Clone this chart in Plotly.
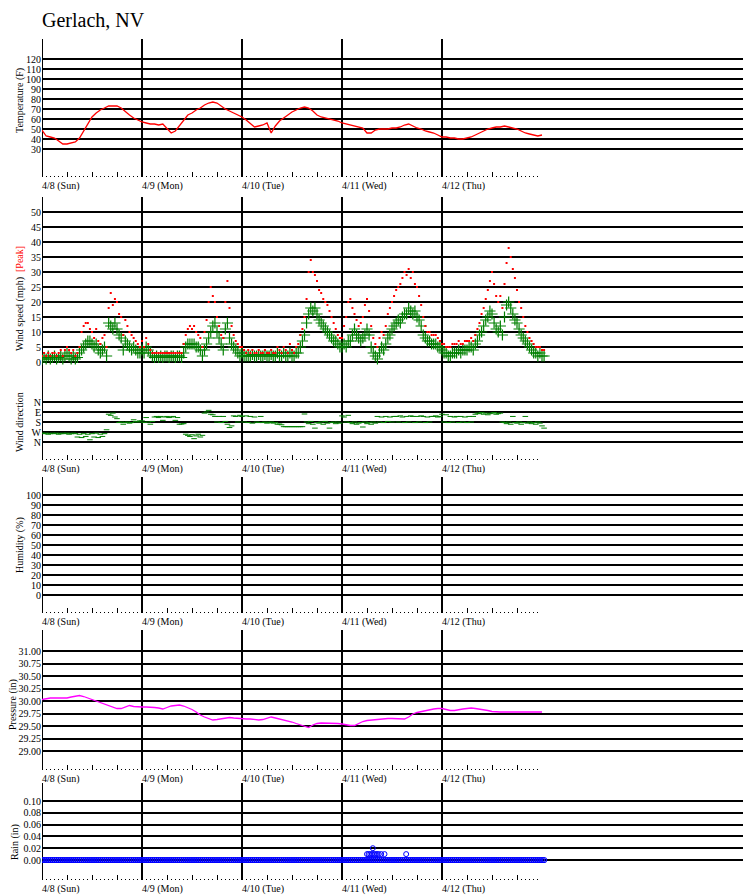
import plotly.graph_objects as go
from datetime import datetime, timedelta

# ---------------- data ----------------
title_text = "Gerlach, NV"
start = datetime(2012, 4, 8)
day_labels = ["4/8 (Sun)", "4/9 (Mon)", "4/10 (Tue)", "4/11 (Wed)", "4/12 (Thu)"]

# hourly, from 4/8 00:00
temp_f = [
    49, 43, 42, 41, 38, 35, 35, 36, 37, 41, 48, 56, 62, 66, 69, 71, 73, 73, 73, 71, 67, 64, 61, 59,
    57, 56, 55, 55, 54, 55, 50, 46, 48, 53, 59, 64, 66, 69, 71, 74, 76, 77, 76, 73, 70, 68, 66, 64,
    62, 59, 55, 52, 53, 54, 56, 46, 53, 58, 61, 64, 67, 69, 71, 72, 71, 68, 64, 62, 61, 60, 59, 58,
    56, 55, 54, 53, 52, 51, 46, 46, 49, 50, 50, 50, 51, 51, 52, 54, 55, 53, 51, 50, 48, 47, 46, 44,
    42, 42, 41, 41, 40, 40, 41, 42, 44, 46, 48, 50, 51, 52, 52, 53, 52, 51, 50, 48, 46, 45, 44, 43, 44,
]

pressure_in = [
    30.03, 30.05, 30.06, 30.06, 30.06, 30.06, 30.06, 30.08, 30.10, 30.11, 30.09, 30.06, 30.02, 30.00, 29.96, 29.93, 29.91, 29.88, 29.85, 29.85, 29.88, 29.91, 29.89, 29.88,
    29.88, 29.88, 29.88, 29.87, 29.86, 29.84, 29.87, 29.90, 29.91, 29.92, 29.90, 29.87, 29.83, 29.78, 29.72, 29.68, 29.65, 29.62, 29.63, 29.64, 29.65, 29.67, 29.66, 29.65,
    29.65, 29.64, 29.64, 29.63, 29.62, 29.63, 29.66, 29.68, 29.66, 29.64, 29.63, 29.60, 29.58, 29.55, 29.52, 29.49, 29.47, 29.52, 29.55, 29.56, 29.56, 29.55, 29.55, 29.55,
    29.54, 29.52, 29.51, 29.51, 29.55, 29.59, 29.61, 29.62, 29.63, 29.64, 29.64, 29.65, 29.65, 29.65, 29.64, 29.64, 29.68, 29.74, 29.77, 29.79, 29.81, 29.83, 29.84, 29.85,
    29.85, 29.83, 29.81, 29.81, 29.83, 29.84, 29.85, 29.86, 29.85, 29.84, 29.82, 29.81, 29.79, 29.78, 29.78, 29.78, 29.78, 29.78, 29.78, 29.78, 29.78, 29.78, 29.78, 29.78, 29.78,
]

# half-hourly, from 4/8 00:00
wind_avg_mph = [
    1, 1.5, 1, 2, 1, 1.5, 2, 1, 1.5, 2, 1, 2, 3, 2, 1, 2, 1, 1.5, 3, 4, 5, 6, 7, 7, 6, 5, 6, 4, 3, 4, 5, 2, 13, 12, 11, 13, 11, 9, 8, 4, 7, 6, 5, 4, 5, 4, 3, 3,
    4, 3, 5, 4, 3, 2, 1.5, 2, 1.5, 2, 1.5, 2, 2, 1.5, 2, 2, 1.5, 2, 2, 1.5, 3, 5, 6, 6, 6, 6, 5, 5, 4, 2, 4, 6, 8, 10, 12, 13, 10, 8, 6, 4, 11, 13, 8, 6, 5, 4, 3, 2,
    3, 2, 2, 2, 2, 2.5, 2, 2, 2.5, 2, 2, 2.5, 2, 2, 2.5, 2, 2, 3, 2, 2, 3, 2, 2, 3, 2, 2, 3, 3, 5, 7, 9, 13, 16, 18, 17, 18, 16, 14, 13, 12, 11, 10, 9, 8, 7, 7, 6, 5,
    5, 6, 5, 7, 7, 9, 11, 9, 8, 7, 8, 9, 11, 9, 5, 3, 2, 1, 3, 5, 4, 6, 8, 9, 11, 12, 13, 14, 13, 15, 16, 16, 18, 17, 16, 17, 15, 14, 12, 9, 8, 7, 7, 6, 6, 6, 5, 5,
    4, 3, 3, 2, 2, 3, 3, 3, 4, 3, 4, 4, 4, 5, 5, 4, 6, 7, 9, 10, 12, 14, 15, 17, 16, 13, 11, 10, 12, 9, 15, 19, 20, 18, 16, 14, 13, 11, 9, 8, 7, 6, 5, 4, 3, 3, 2, 3, 2, 2,
]

wind_peak_mph = [
    2, 3, 2, 3, 2, 3, 3, 2, 3, 4, 2, 4, 5, 4, 3, 4, 2, 3, 5, 10, 12, 13, 13, 11, 10, 8, 11, 7, 6, 8, 9, 5, 18, 23, 19, 21, 20, 16, 15, 9, 14, 12, 10, 9, 8, 7, 6, 5,
    7, 5, 8, 6, 4, 3, 3, 3, 3, 3, 3, 3, 3, 3, 3, 3, 3, 3, 3, 3, 6, 9, 11, 12, 11, 12, 10, 9, 8, 5, 10, 14, 20, 25, 22, 20, 15, 12, 9, 8, 20, 27, 18, 12, 9, 7, 6, 5,
    5, 4, 3, 4, 3, 4, 3, 3, 4, 3, 3, 4, 3, 3, 4, 3, 3, 5, 4, 3, 5, 4, 3, 6, 4, 3, 5, 6, 9, 11, 15, 21, 30, 34, 30, 29, 27, 24, 23, 21, 20, 19, 17, 15, 13, 11, 9, 8,
    8, 12, 15, 20, 21, 18, 16, 14, 12, 13, 15, 19, 21, 17, 12, 8, 6, 5, 8, 10, 9, 12, 16, 18, 20, 22, 24, 25, 26, 28, 30, 29, 31, 28, 30, 26, 25, 22, 19, 15, 12, 10, 10, 9, 9, 9, 8, 7,
    6, 6, 5, 5, 5, 6, 6, 6, 7, 6, 6, 7, 7, 7, 8, 7, 9, 11, 13, 16, 18, 21, 24, 27, 30, 26, 22, 20, 22, 18, 26, 33, 38, 35, 31, 28, 24, 20, 18, 15, 12, 10, 8, 7, 6, 5, 5, 5, 4, 4,
]

# degrees (0 = N, 90 = E, 180 = S, 270 = W)
wind_dir_deg = [
    280, 285, 280, 290, 285, 280, 285, 280, 290, 285, 280, 285, 280, 290, 285, 280,
    285, 315, 290, 320, 285, 310, 290, 340, 285, 315, 280, 320, 290, 310, 285, 250,
    110, 120, 100, 135, 150, 185, 180, 200, 185, 180, 190, 185, 160, 175, 180, 170,
    170, 185, 140, 180, 200, 175, 135, 130, 140, 130, 165, 135, 130, 140, 135, 130, 165, 140,
    200, 198, 195, 290, 300, 310, 295, 330, 305, 290, 315, 300, 100, 90, 75, 110, 115,
    130, 180, 130, 185, 130, 175, 200, 230, 215, 125, 130, 180, 120,
    130, 180, 125, 185, 130, 190, 135, 180, 185, 130, 185, 180, 190, 185, 180, 190, 185,
    200, 198, 205, 222, 222, 222, 222, 222, 222, 222, 222, 222, 222, 108,
    180, 195, 175, 200, 235, 185, 190, 180, 200, 175, 190, 235, 185, 180, 195, 180, 190,
    125, 135, 180, 120, 185, 195, 180, 200, 190, 185, 225, 180, 195, 185, 200, 180, 190,
    130, 180, 135, 185, 130, 175, 135, 180, 130,
    130, 180, 125, 135, 185, 130, 180, 125, 130, 185, 130, 180, 125, 130, 185, 135, 180, 130,
    130, 125, 135, 130,
    110, 180, 115, 185, 130, 180, 135, 130, 185, 130, 180, 135, 185, 130, 180, 130, 110,
    100, 105, 95, 110, 100, 115, 105, 100, 95, 110, 105, 100, 180,
    185, 195, 180, 200, 130, 185, 190, 180, 200, 185, 130, 190, 180, 195, 185, 200, 180, 190,
    215, 235,
]

rain_in = [
    0, 0, 0, 0, 0, 0, 0, 0, 0, 0, 0, 0, 0, 0, 0, 0, 0, 0, 0, 0, 0, 0, 0, 0, 0, 0, 0, 0, 0, 0, 0, 0, 0, 0, 0, 0, 0, 0, 0, 0, 0, 0, 0, 0, 0, 0, 0, 0,
    0, 0, 0, 0, 0, 0, 0, 0, 0, 0, 0, 0, 0, 0, 0, 0, 0, 0, 0, 0, 0, 0, 0, 0, 0, 0, 0, 0, 0, 0, 0, 0, 0, 0, 0, 0, 0, 0, 0, 0, 0, 0, 0, 0, 0, 0, 0, 0,
    0, 0, 0, 0, 0, 0, 0, 0, 0, 0, 0, 0, 0, 0, 0, 0, 0, 0, 0, 0, 0, 0, 0, 0, 0, 0, 0, 0, 0, 0, 0, 0, 0, 0, 0, 0, 0, 0, 0, 0, 0, 0, 0, 0, 0, 0, 0, 0,
    0, 0, 0, 0, 0, 0, 0, 0, 0, 0, 0, 0, 0, 0, 0, 0, 0, 0, 0, 0, 0, 0, 0, 0, 0, 0, 0, 0, 0, 0, 0, 0, 0, 0, 0, 0, 0, 0, 0, 0, 0, 0, 0, 0, 0, 0, 0, 0,
    0, 0, 0, 0, 0, 0, 0, 0, 0, 0, 0, 0, 0, 0, 0, 0, 0, 0, 0, 0, 0, 0, 0, 0, 0, 0, 0, 0, 0, 0, 0, 0, 0, 0, 0, 0, 0, 0, 0, 0, 0, 0, 0, 0, 0, 0, 0, 0, 0, 0,
]
rain_extra_hours = [78.0, 78.4, 78.8, 79.2, 79.4, 79.6, 80.0, 80.4, 80.8, 81.4, 82.2, 87.4]
rain_extra_in = [0.01, 0.01, 0.01, 0.01, 0.02, 0.01, 0.01, 0.01, 0.01, 0.01, 0.01, 0.01]

temp_ticks = [30, 40, 50, 60, 70, 80, 90, 100, 110, 120]
speed_ticks = [0, 5, 10, 15, 20, 25, 30, 35, 40, 45, 50]
dir_ticks = [0, 90, 180, 270, 360]
dir_labels = ["N", "E", "S", "W", "N"]
hum_ticks = [0, 10, 20, 30, 40, 50, 60, 70, 80, 90, 100]
press_ticks = [29.00, 29.25, 29.50, 29.75, 30.00, 30.25, 30.50, 30.75, 31.00]
rain_ticks = [0.00, 0.02, 0.04, 0.06, 0.08, 0.10]

# ---------------- helpers ----------------
PAGE_OFF = 8            # default body margin of the html page
PAGE_W, PAGE_H = 751, 895
W, H = PAGE_W - PAGE_OFF, PAGE_H - PAGE_OFF
LEFT_PAGE = 42          # page x of the plot's left edge
LEFT = LEFT_PAGE - PAGE_OFF
FONT = "Liberation Serif, Times New Roman, serif"


def at(h):
    return start + timedelta(hours=h)


def fy(px):             # page y pixel -> paper fraction
    return 1 - (px - PAGE_OFF) / H


def fx(px):             # page x pixel -> paper fraction
    return (px - LEFT_PAGE) / (W - LEFT)


t_hourly = [at(i) for i in range(len(temp_f))]
t_press = [at(i) for i in range(len(pressure_in))]
t_avg = [at(0.5 * i) for i in range(len(wind_avg_mph))]
t_peak = [at(0.5 * i) for i in range(len(wind_peak_mph))]
t_dir = [at(0.5 * i) for i in range(len(wind_dir_deg))]
t_rain = [at(0.5 * i) for i in range(len(rain_in))]
t_rain_x = [at(h) for h in rain_extra_hours]

x_range = [start, at((W - LEFT) * 24 / 100)]
days = [at(24 * d) for d in range(5)]
major = [at(h) for h in range(0, 115, 6)]
minor = [at(h) for h in range(0, 120)]

fig = go.Figure()

fig.add_trace(go.Scatter(x=t_hourly, y=temp_f, mode="lines", line=dict(color="red", width=1.3),
                         xaxis="x", yaxis="y", showlegend=False))
fig.add_trace(go.Scatter(x=t_avg, y=wind_avg_mph, mode="markers",
                         marker=dict(symbol="cross-thin", size=8, line=dict(color="#008000", width=1.2)),
                         xaxis="x2", yaxis="y2", showlegend=False))
fig.add_trace(go.Scatter(x=t_peak, y=wind_peak_mph, mode="markers",
                         marker=dict(symbol="square", size=2, color="red", line=dict(width=0)),
                         xaxis="x2", yaxis="y2", showlegend=False))
fig.add_trace(go.Scatter(x=t_dir, y=wind_dir_deg, mode="markers",
                         marker=dict(symbol="line-ew", size=4, line=dict(color="#008000", width=1)),
                         xaxis="x2", yaxis="y6", showlegend=False))
fig.add_trace(go.Scatter(x=[], y=[], xaxis="x3", yaxis="y3", showlegend=False))
fig.add_trace(go.Scatter(x=t_press, y=pressure_in, mode="lines", line=dict(color="magenta", width=1.3),
                         xaxis="x4", yaxis="y4", showlegend=False))
fig.add_trace(go.Scatter(x=t_rain, y=rain_in, mode="markers",
                         marker=dict(symbol="circle-open", size=5, color="blue", line=dict(width=1.2)),
                         xaxis="x5", yaxis="y5", showlegend=False))
fig.add_trace(go.Scatter(x=t_rain_x, y=rain_extra_in, mode="markers",
                         marker=dict(symbol="circle-open", size=5, color="blue", line=dict(width=1)),
                         xaxis="x5", yaxis="y5", showlegend=False))

tickfont = dict(family=FONT, size=10, color="black")


def xax(anchor):
    return dict(type="date", range=x_range, domain=[0, 1], anchor=anchor,
                showgrid=False, zeroline=False, showline=False, showticklabels=False,
                tickmode="array", tickvals=major, ticks="inside", ticklen=5, tickwidth=1,
                tickcolor="black",
                minor=dict(tickmode="array", tickvals=minor, ticks="inside", ticklen=1,
                           tickwidth=1, tickcolor="black", showgrid=False),
                fixedrange=True)


def yax(anchor, top, bottom, rng, tickvals, ticktext=None, fmt=None):
    d = dict(domain=[fy(bottom), fy(top)], range=rng, anchor=anchor,
             tickmode="array", tickvals=tickvals, showgrid=True, gridcolor="black",
             gridwidth=1.6, zeroline=False, showline=False, ticks="",
             tickfont=tickfont, fixedrange=True)
    if ticktext is not None:
        d["ticktext"] = ticktext
    if fmt is not None:
        d["tickformat"] = fmt
    return d


# panel extents in page pixels (top, bottom)
P_T = (39, 177)
P_S = (197, 390)
P_D = (390, 460)
P_H = (477, 613)
P_P = (630, 770)
P_R = (783, 880)

layout = dict(
    width=W, height=H, margin=dict(l=LEFT, r=0, t=0, b=0),
    paper_bgcolor="white", plot_bgcolor="white", showlegend=False,
    xaxis=xax("y"), xaxis2=xax("y6"), xaxis3=xax("y3"), xaxis4=xax("y4"), xaxis5=xax("y5"),
    yaxis=yax("x", *P_T, [2, 140], temp_ticks),
    yaxis2=yax("x2", *P_S, [-9.33, 55], speed_ticks),
    yaxis6=yax("x2", *P_D, [522, -108], dir_ticks, dir_labels),
    yaxis3=yax("x3", *P_H, [-18, 118], hum_ticks),
    yaxis4=yax("x4", *P_P, [28.62, 31.42], press_ticks, fmt=".2f"),
    yaxis5=yax("x5", *P_R, [-0.0339, 0.1305], rain_ticks, fmt=".2f"),
)
fig.update_layout(**layout)

# day separator lines
shapes = []
for (top, bottom) in [P_T, (P_S[0], P_D[1]), P_H, P_P, P_R]:
    for d in days:
        shapes.append(dict(type="line", xref="x", yref="paper", x0=d, x1=d,
                           y0=fy(bottom), y1=fy(top), line=dict(color="black", width=2),
                           layer="below"))
fig.update_layout(shapes=shapes)

ann = []
ann.append(dict(text=title_text, xref="paper", yref="paper", x=fx(40), y=fy(20),
                xanchor="left", yanchor="middle", showarrow=False,
                font=dict(family=FONT, size=20, color="black")))
for (xn, bottom) in [("x", P_T[1]), ("x2", P_D[1]), ("x3", P_H[1]), ("x4", P_P[1]), ("x5", P_R[1])]:
    for d, lab in zip(days, day_labels):
        ann.append(dict(text=lab, xref=xn, yref="paper", x=d, y=fy(bottom + 9),
                        xanchor="left", yanchor="middle", showarrow=False, xshift=-2,
                        font=tickfont))
titles = [
    ("Temperature (F)", 20, 101),
    ('Wind speed (mph)  <span style="color:red">[Peak]</span>', 20, 299),
    ("Wind direction", 19, 422),
    ("Humidity (%)", 20, 545),
    ("Pressure (in)", 13, 705),
    ("Rain (in)", 15, 842),
]
for txt, px, py in titles:
    ann.append(dict(text=txt, xref="paper", yref="paper", x=fx(px), y=fy(py),
                    xanchor="center", yanchor="middle", textangle=-90, showarrow=False,
                    font=dict(family=FONT, size=10, color="black")))
fig.update_layout(annotations=ann)

fig.write_html("out.html")
